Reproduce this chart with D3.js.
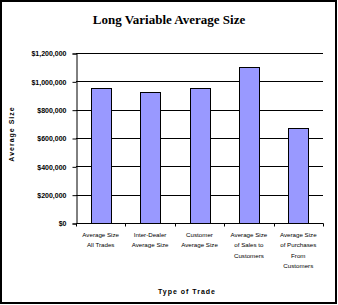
<!DOCTYPE html>
<html><head><meta charset="utf-8">
<script src="https://cdn.jsdelivr.net/npm/d3@7"></script>
<style>body{margin:0;background:#fff}svg{display:block}</style>
</head><body>
<script>
const categories = [
  ["Average Size","All Trades"],
  ["Inter-Dealer","Average Size"],
  ["Customer","Average Size"],
  ["Average Size","of Sales to","Customers"],
  ["Average Size","of Purchases","From","Customers"]
];
const values = [950000, 922000, 955000, 1098000, 668000];
const yTicks = [0, 200000, 400000, 600000, 800000, 1000000, 1200000];

const W = 338, H = 305;
const m = {l:76, r:323, t:53, b:223};
const svg = d3.select("body").append("svg").attr("width", W).attr("height", H);

svg.append("rect").attr("x",1).attr("y",1).attr("width",335).attr("height",302)
  .attr("fill","#fff").attr("stroke","#000").attr("stroke-width",2);

const x = d3.scaleBand().domain(d3.range(categories.length)).range([m.l, m.r]).paddingInner(0).paddingOuter(0);
const y = d3.scaleLinear().domain([0, 1200000]).range([m.b, m.t]);

// gridlines
svg.append("g").selectAll("line").data(yTicks.slice(1)).join("line")
  .attr("x1", m.l).attr("x2", m.r).attr("y1", d=>Math.round(y(d))+0.5).attr("y2", d=>Math.round(y(d))+0.5)
  .attr("stroke","#000").attr("stroke-width",1);

// bars
const bw = x.bandwidth()/2.5;
svg.append("g").selectAll("rect").data(values).join("rect")
  .attr("x", (d,i)=>Math.round(x(i)+(x.bandwidth()-bw)/2)+0.5)
  .attr("y", d=>Math.round(y(d))+0.5)
  .attr("width", Math.round(bw))
  .attr("height", d=>Math.round(y(0))-Math.round(y(d)))
  .attr("fill","#9999FF").attr("stroke","#000").attr("stroke-width",1);

// y axis
const yAxis = d3.axisLeft(y).tickValues(yTicks).tickSize(4).tickPadding(6)
  .tickFormat(d => "$" + d3.format(",")(d));
const gy = svg.append("g").attr("transform", `translate(${m.l+0.5},0.5)`).call(yAxis);
gy.select(".domain").attr("stroke","#000");
gy.selectAll(".tick line").attr("stroke","#000");
gy.selectAll("text").attr("font-family","Liberation Sans, Arial, sans-serif").attr("font-size","7px").attr("font-weight","bold").attr("fill","#000");

// x axis
const gx = svg.append("g").attr("transform", `translate(0,${Math.round(y(0))+0.5})`);
gx.append("line").attr("x1", m.l).attr("x2", m.r+0.5).attr("stroke","#000");
gx.selectAll(".xt").data(d3.range(categories.length+1)).join("line").attr("class","xt")
  .attr("x1", i=>Math.round(m.l + i*x.bandwidth())+0.5).attr("x2", i=>Math.round(m.l + i*x.bandwidth())+0.5)
  .attr("y1",0).attr("y2",3).attr("stroke","#000");

const lab = svg.append("g").attr("font-family","Liberation Sans, Arial, sans-serif").attr("font-size","6.2px").attr("fill","#000");
categories.forEach((lines,i)=>{
  const t = lab.append("text").attr("text-anchor","middle");
  lines.forEach((s,j)=>{
    t.append("tspan").attr("x", x(i)+x.bandwidth()/2).attr("y", 237 + j*10.3).text(s);
  });
});

// titles
svg.append("text").attr("x",169).attr("y",24).attr("text-anchor","middle")
  .attr("font-family","Liberation Serif, Times New Roman, serif").attr("font-weight","bold").attr("font-size","13px")
  .text("Long Variable Average Size");

svg.append("text").attr("x",187).attr("y",294).attr("text-anchor","middle")
  .attr("font-family","Liberation Sans, Arial, sans-serif").attr("font-weight","bold").attr("font-size","7px").attr("letter-spacing","1px")
  .text("Type of Trade");

svg.append("text").attr("transform","translate(14,134) rotate(-90)").attr("text-anchor","middle")
  .attr("font-family","Liberation Sans, Arial, sans-serif").attr("font-weight","bold").attr("font-size","7px").attr("letter-spacing","1px")
  .text("Average Size");
</script>
</body></html>
